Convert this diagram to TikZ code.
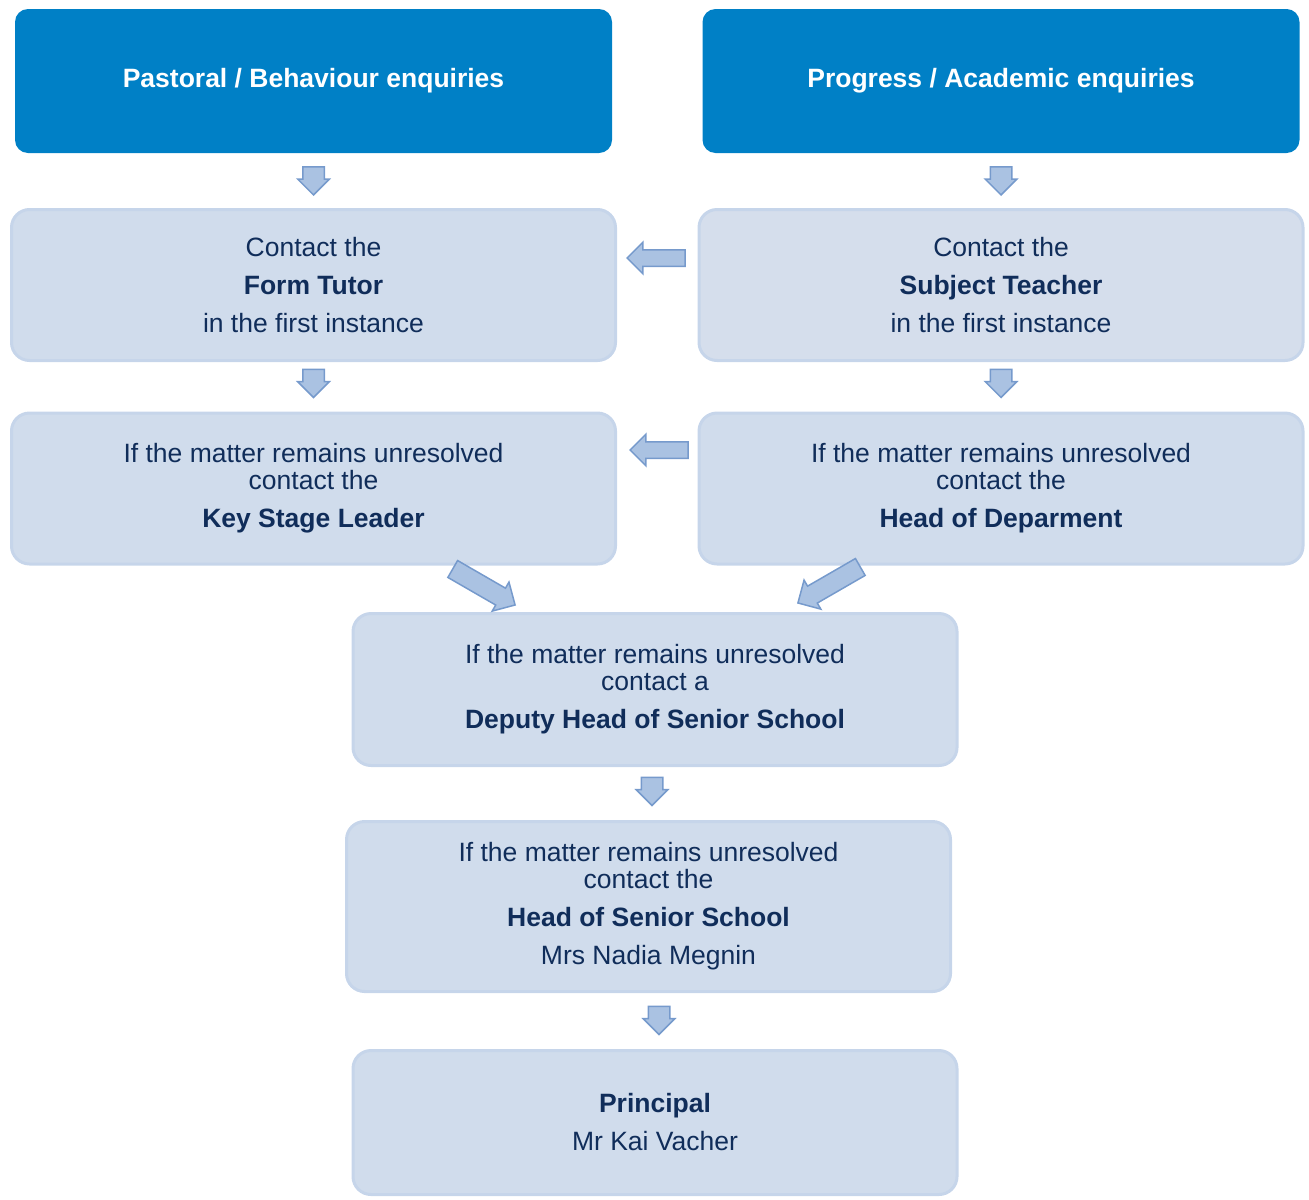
\documentclass[tikz,border=0pt]{standalone}
\usepackage{fontspec}
\setmainfont{Liberation Sans}
\usetikzlibrary{shapes.arrows, calc}

\definecolor{headblue}{RGB}{0,128,198}
\definecolor{boxfill}{RGB}{208,220,236}
\definecolor{boxgrey}{RGB}{213,222,236}
\definecolor{boxline}{RGB}{198,213,234}
\definecolor{navytext}{RGB}{16,45,90}
\definecolor{arrowfill}{RGB}{170,194,226}
\definecolor{arrowline}{RGB}{118,154,204}

\begin{document}
\begin{tikzpicture}[x=0.5pt, y=-0.5pt,
	every node/.style={font=\fontsize{13.25pt}{19pt}\selectfont, text=navytext, align=center},
	topbox/.style={rectangle, rounded corners=6.5pt, fill=headblue, text=white, font=\fontsize{13.25pt}{19pt}\selectfont\bfseries,
		minimum width=298.5pt, minimum height=72pt, inner sep=0pt},
	stepbox/.style={rectangle, rounded corners=9pt, fill=boxfill, draw=boxline, line width=1.5pt,
		minimum width=302pt, minimum height=#1, inner sep=0pt},
	stepbox/.default=75.5pt,
	blockarrow/.style={single arrow, anchor=tip, draw=arrowline, fill=arrowfill, line width=0.75pt, inner xsep=0pt},
	downarrow/.style={blockarrow, rotate=-90, inner ysep=5pt, minimum height=14pt, single arrow head extend=2.5pt},
	leftarrow/.style={blockarrow, rotate=180, inner ysep=3.75pt, minimum height=29pt, single arrow head extend=3.75pt},
	slantarrow/.style={blockarrow, rotate=#1, inner ysep=4.5pt, minimum height=36pt, single arrow head extend=3.5pt}]

	\useasboundingbox (0,0) rectangle (1309,1199);

	% Enquiry headers
	\node[topbox] (pastoral) at (313.5,81) {Pastoral / Behaviour enquiries};
	\node[topbox] (academic) at (1001,81) {Progress / Academic enquiries};

	% First contact
	\node[stepbox] (tutor) at (313.5,285) {Contact the\\\textbf{Form Tutor}\\in the first instance};
	\node[stepbox, fill=boxgrey] (teacher) at (1001,285) {Contact the\\\textbf{Subject Teacher}\\in the first instance};

	% Second contact
	\node[stepbox] (ksl) at (313.5,488.5) {If the matter remains unresolved\\[-5.5pt]contact the\\\textbf{Key Stage Leader}};
	\node[stepbox] (hod) at (1001,488.5) {If the matter remains unresolved\\[-5.5pt]contact the\\\textbf{Head of Deparment}};

	% Senior school
	\node[stepbox=76pt] (deputy) at (655,689.5) {If the matter remains unresolved\\[-5.5pt]contact a\\\textbf{Deputy Head of Senior School}};
	\node[stepbox=85pt] (head) at (648.5,906.5) {If the matter remains unresolved\\[-5.5pt]contact the\\\textbf{Head of Senior School}\\Mrs Nadia Megnin};
	\node[stepbox=72pt] (principal) at (655,1122.5) {\textbf{Principal}\\Mr Kai Vacher};

	% Block arrows (placed by their tips)
	\node[downarrow] (a1) at ($(tutor.north)+(0,-12)$) {};
	\node[downarrow] (a2) at ($(teacher.north)+(0,-12)$) {};
	\node[leftarrow] (a3) at ($(tutor.east)+(9,-27)$) {};
	\node[downarrow] (a4) at ($(ksl.north)+(0,-13)$) {};
	\node[downarrow] (a5) at ($(hod.north)+(0,-13)$) {};
	\node[leftarrow] (a6) at ($(ksl.east)+(12,-38.5)$) {};
	\node[slantarrow=-30] (a7) at ($(deputy.north)+(-139,-6.5)$) {};
	\node[slantarrow=-150] (a8) at ($(deputy.north)+(142,-8.5)$) {};
	\node[downarrow] (a9) at ($(head.north)+(3.5,-13.5)$) {};
	\node[downarrow] (a10) at ($(principal.north)+(4,-13.5)$) {};

\end{tikzpicture}
\end{document}
